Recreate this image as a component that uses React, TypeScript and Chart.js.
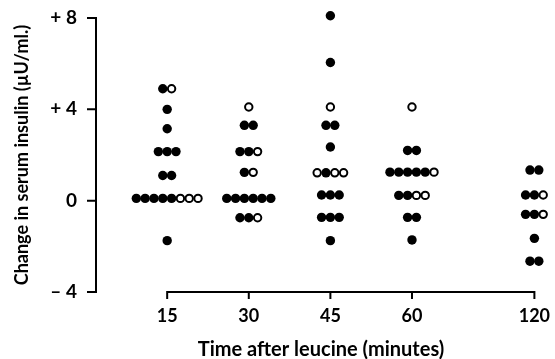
import { useEffect, useRef } from "react";
import { Chart, registerables } from "chart.js";

Chart.register(...registerables);

// Time points (minutes) and their slot on the broken x axis
const timeLabels = ["15", "30", "45", "60", "120"];
const timeSlots = [0, 1, 2, 3, 4.5];

// Y tick labels for -4, 0, +4, +8
const yTickValues = [-4, 0, 4, 8];
const yTickLabels = ["– 4", "0", "+ 4", "+ 8"];

// Change in serum insulin (µU/ml) per subject; open = 1 marks open circles
const values15 = [4.9, 4.9, 4.0, 3.15, 2.15, 2.15, 2.15, 1.1, 1.1, 0.1, 0.1, 0.1, 0.1, 0.1, 0.1, 0.1, 0.1, -1.75];
const open15 = [0, 1, 0, 0, 0, 0, 0, 0, 0, 0, 0, 0, 0, 0, 1, 1, 1, 0];

const values30 = [4.1, 3.3, 3.3, 2.15, 2.15, 2.15, 1.24, 1.24, 0.1, 0.1, 0.1, 0.1, 0.1, 0.1, -0.75, -0.75, -0.75];
const open30 = [1, 0, 0, 0, 0, 1, 0, 1, 0, 0, 0, 0, 0, 0, 0, 0, 1];

const values45 = [8.1, 6.05, 4.1, 3.3, 3.3, 2.35, 1.22, 1.22, 1.22, 1.22, 0.25, 0.25, 0.25, -0.73, -0.73, -0.73, -1.75];
const open45 = [0, 0, 1, 0, 0, 0, 1, 0, 1, 1, 0, 0, 0, 0, 0, 0, 0];

const values60 = [4.1, 2.2, 2.2, 1.25, 1.25, 1.25, 1.25, 1.25, 1.25, 0.23, 0.23, 0.23, 0.23, -0.73, -0.73, -1.72];
const open60 = [1, 0, 0, 0, 0, 0, 0, 0, 1, 0, 0, 1, 1, 0, 0, 0];

const values120 = [1.34, 1.34, 0.25, 0.25, 0.25, -0.6, -0.6, -0.6, -1.65, -2.65, -2.65];
const open120 = [0, 0, 0, 0, 1, 0, 0, 1, 0, 0, 0];

const allValues = [values15, values30, values45, values60, values120];
const allOpen = [open15, open30, open45, open60, open120];

const DOT_STEP = 0.108; // horizontal spacing of side-by-side dots (x units)
const FONT = "Lato";

function buildPoints() {
  const filled: { x: number; y: number }[] = [];
  const open: { x: number; y: number }[] = [];
  allValues.forEach((vals, ci) => {
    const flags = allOpen[ci];
    let i = 0;
    while (i < vals.length) {
      let j = i;
      while (j < vals.length && vals[j] === vals[i]) j++;
      const n = j - i;
      for (let k = 0; k < n; k++) {
        const p = { x: timeSlots[ci] + (k - (n - 1) / 2) * DOT_STEP, y: vals[i + k] };
        (flags[i + k] ? open : filled).push(p);
      }
      i = j;
    }
  });
  return { filled, open };
}

// Draws both axis lines and their tick marks from the scales' own geometry
const axisMarks = {
  id: "axisMarks",
  afterDraw(chart: any) {
    const xs = chart.scales.x;
    const ys = chart.scales.y;
    const ctx = chart.ctx;
    const bottom = xs.top;
    const ax = ys.right - 1;
    ctx.save();
    ctx.strokeStyle = "#000";
    ctx.lineWidth = 2;
    ctx.beginPath();
    // x axis line and ticks
    ctx.moveTo(xs.getPixelForValue(timeSlots[0]) - 1, bottom);
    ctx.lineTo(xs.getPixelForValue(timeSlots[timeSlots.length - 1]) + 1, bottom);
    timeSlots.forEach((v) => {
      const px = xs.getPixelForValue(v);
      ctx.moveTo(px, bottom);
      ctx.lineTo(px, bottom + 7);
    });
    // y axis line and ticks
    ctx.moveTo(ax, ys.getPixelForValue(yTickValues[yTickValues.length - 1]) - 1);
    ctx.lineTo(ax, ys.getPixelForValue(yTickValues[0]) + 1);
    yTickValues.forEach((v) => {
      const py = ys.getPixelForValue(v);
      ctx.moveTo(ax + 1, py);
      ctx.lineTo(ax - 9, py);
    });
    ctx.stroke();
    ctx.restore();
  },
};

export default function App() {
  const ref = useRef<HTMLCanvasElement | null>(null);
  useEffect(() => {
    if (!ref.current) return;
    const { filled, open } = buildPoints();
    const chart = new Chart(ref.current, {
      type: "scatter",
      data: {
        datasets: [
          {
            label: "filled",
            data: filled,
            clip: false,
            pointRadius: 4.7,
            pointBackgroundColor: "#000",
            pointBorderColor: "#000",
            pointBorderWidth: 0,
          },
          {
            label: "open",
            data: open,
            clip: false,
            pointRadius: 3.7,
            pointBackgroundColor: "#fff",
            pointBorderColor: "#000",
            pointBorderWidth: 2,
          },
        ],
      },
      options: {
        responsive: false,
        animation: false,
        layout: { padding: { top: 18, right: 10, left: 0, bottom: 0 } },
        plugins: { legend: { display: false }, tooltip: { enabled: false } },
        scales: {
          x: {
            type: "linear",
            min: -0.86,
            max: 4.63,
            border: { display: false },
            grid: { display: false, drawTicks: false },
            afterBuildTicks: (scale: any) => {
              scale.ticks = timeSlots.map((v) => ({ value: v }));
            },
            afterFit: (scale: any) => {
              scale.height = 67;
              scale.paddingLeft = 0;
              scale.paddingRight = 0;
            },
            ticks: {
              color: "#000",
              padding: 13,
              font: { family: FONT, size: 18, weight: "bold" },
              maxRotation: 0,
              autoSkip: false,
              callback: (_v: any, i: number) => timeLabels[i],
            },
            title: {
              display: true,
              text: "Time after leucine (minutes)",
              color: "#000",
              font: { family: FONT, size: 20, weight: "bold" },
              padding: { top: 0, bottom: -3 },
            },
          },
          y: {
            type: "linear",
            min: -4,
            max: 8,
            border: { display: false },
            grid: { display: false, drawTicks: false },
            afterBuildTicks: (scale: any) => {
              scale.ticks = yTickValues.map((v) => ({ value: v }));
            },
            afterFit: (scale: any) => {
              scale.width = 97;
              scale.paddingTop = 0;
              scale.paddingBottom = 0;
            },
            ticks: {
              color: "#000",
              padding: 20,
              font: { family: FONT, size: 19, weight: "bold" },
              callback: (v: any) => yTickLabels[yTickValues.indexOf(Number(v))],
            },
            title: {
              display: true,
              text: "Change in serum insulin (µU/ml.)",
              color: "#000",
              font: { family: FONT, size: 18, weight: "bold" },
              padding: { top: 11, bottom: 0 },
            },
          },
        },
      },
      plugins: [axisMarks],
    });
    return () => chart.destroy();
  }, []);
  return (
    <div style={{ position: "absolute", left: 0, top: 0, width: 555, height: 359 }}>
      <canvas ref={ref} width={555} height={359} style={{ display: "block" }} />
    </div>
  );
}
